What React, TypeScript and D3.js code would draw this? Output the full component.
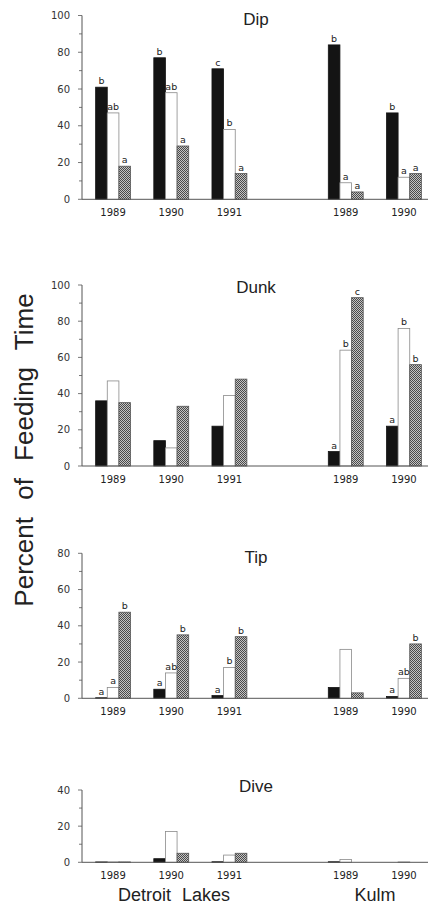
import React from "react";
import * as d3 from "d3";

// ---------- data ----------
const groups = ["DL1989", "DL1990", "DL1991", "gap", "K1989", "K1990"];
const yearLabels = ["1989", "1990", "1991", "", "1989", "1990"];
const seriesKeys = ["black", "white", "grey"];

const panelTitles = ["Dip", "Dunk", "Tip", "Dive"];
const panelMax = [100, 100, 80, 40];

const dipBlack = [61, 77, 71, 0, 84, 47];
const dipWhite = [47, 58, 38, 0, 9, 12];
const dipGrey = [18, 29, 14, 0, 4, 14];
const dipLetBlack = ["b", "b", "c", "", "b", "b"];
const dipLetWhite = ["ab", "ab", "b", "", "a", "a"];
const dipLetGrey = ["a", "a", "a", "", "a", "a"];

const dunkBlack = [36, 14, 22, 0, 8, 22];
const dunkWhite = [47, 10, 39, 0, 64, 76];
const dunkGrey = [35, 33, 48, 0, 93, 56];
const dunkLetBlack = ["", "", "", "", "a", "a"];
const dunkLetWhite = ["", "", "", "", "b", "b"];
const dunkLetGrey = ["", "", "", "", "c", "b"];

const tipBlack = [0.3, 5, 1.5, 0, 6, 1];
const tipWhite = [6, 14, 17, 0, 27, 11];
const tipGrey = [47.5, 35, 34, 0, 3, 30];
const tipLetBlack = ["a", "a", "a", "", "", "a"];
const tipLetWhite = ["a", "ab", "b", "", "", "ab"];
const tipLetGrey = ["b", "b", "b", "", "", "b"];

const diveBlack = [0.2, 2, 0.3, 0, 0.3, 0];
const diveWhite = [0.2, 17, 4, 0, 1.5, 0.2];
const diveGrey = [0.2, 5, 5, 0, 0, 0];

const panelValues = [
  [dipBlack, dipWhite, dipGrey],
  [dunkBlack, dunkWhite, dunkGrey],
  [tipBlack, tipWhite, tipGrey],
  [diveBlack, diveWhite, diveGrey],
];
const panelLetters = [
  [dipLetBlack, dipLetWhite, dipLetGrey],
  [dunkLetBlack, dunkLetWhite, dunkLetGrey],
  [tipLetBlack, tipLetWhite, tipLetGrey],
  null,
];

const yAxisLabel = "Percent of Feeding Time";
const siteLabels = ["Detroit Lakes", "Kulm"];

// ---------- layout ----------
const W = 430;
const H = 907;
const axisX = 82;
const panelTop = [15.5, 285, 553.3, 790];
const panelZero = [199.3, 466, 698.3, 862.3];
const titleBase = [25, 292.7, 563.3, 792.3];

const x = d3.scaleBand<string>().domain(groups).range([84, 433]).paddingInner(0.4).paddingOuter(0.2);
const xs = d3.scaleBand<string>().domain(seriesKeys).range([0, x.bandwidth()]).padding(0);

const numFont = "'DejaVu Sans', sans-serif";
const textFont = "'Liberation Sans', Arial, Helvetica, sans-serif";

function Panel({ idx }: { idx: number }) {
  const y = d3.scaleLinear().domain([0, panelMax[idx]]).range([panelZero[idx], panelTop[idx]]);
  const ticks = d3.range(0, panelMax[idx] + 0.1, 10);
  const vals = panelValues[idx];
  const lets = panelLetters[idx];
  const y0 = y(0);
  return (
    <g>
      <text x={256} y={titleBase[idx]} textAnchor="middle" fontFamily={textFont} fontSize={17} fill="#222">
        {panelTitles[idx]}
      </text>
      {/* bars */}
      {groups.map((g, gi) =>
        seriesKeys.map((s, si) => {
          const v = vals[si][gi];
          if (v <= 0) return null;
          const bx = (x(g) as number) + (xs(s) as number);
          const by = y(v);
          const h = y0 - by;
          const fill = s === "black" ? "#141414" : s === "white" ? "#ffffff" : "url(#hatch)";
          const stroke = s === "black" ? "#141414" : s === "white" ? "#8a8a8a" : "#555";
          return (
            <rect key={g + s} x={bx} y={by} width={xs.bandwidth()} height={h} fill={fill} stroke={stroke} strokeWidth={0.8} />
          );
        })
      )}
      {/* significance letters */}
      {lets &&
        groups.map((g, gi) =>
          seriesKeys.map((s, si) => {
            const l = lets[si][gi];
            if (!l) return null;
            const cx = (x(g) as number) + (xs(s) as number) + xs.bandwidth() / 2;
            return (
              <text key={"l" + g + s} x={cx} y={y(vals[si][gi]) - 3} textAnchor="middle" fontFamily={numFont} fontSize={9.5} fill="#222">
                {l}
              </text>
            );
          })
        )}
      {/* y axis */}
      <line x1={axisX} x2={axisX} y1={y(panelMax[idx])} y2={y0} stroke="#555" strokeWidth={1} />
      {ticks.map((t) => {
        const major = t % 20 === 0;
        return (
          <g key={t}>
            <line x1={axisX - (major ? 4 : 3)} x2={axisX} y1={y(t)} y2={y(t)} stroke="#555" strokeWidth={0.8} />
            {major && (
              <text x={70} y={y(t)} dy="0.36em" textAnchor="end" fontFamily={numFont} fontSize={10} fill="#333">
                {t}
              </text>
            )}
          </g>
        );
      })}
      {/* baseline */}
      <line x1={axisX} x2={428} y1={y0} y2={y0} stroke="#555" strokeWidth={1} />
      {/* year labels */}
      {groups.map((g, gi) =>
        yearLabels[gi] ? (
          <text key={"y" + g} x={(x(g) as number) + x.bandwidth() / 2} y={y0 + 17} textAnchor="middle" fontFamily={numFont} fontSize={10} fill="#222">
            {yearLabels[gi]}
          </text>
        ) : null
      )}
    </g>
  );
}

export default function App() {
  return (
    <svg width={W} height={H} style={{ position: "absolute", left: 0, top: 0, background: "#fff" }}>
      <defs>
        <pattern id="hatch" width={2} height={2} patternUnits="userSpaceOnUse">
          <rect width={2} height={2} fill="#c4c4c4" />
          <rect width={1} height={1} fill="#4a4a4a" />
          <rect x={1} y={1} width={1} height={1} fill="#4a4a4a" />
        </pattern>
      </defs>
      <rect width={W} height={H} fill="#fff" />
      {panelTitles.map((_, i) => (
        <Panel key={i} idx={i} />
      ))}
      <text
        transform="translate(33,450) rotate(-90)"
        textAnchor="middle"
        fontFamily={textFont}
        fontSize={26}
        fill="#222"
        style={{ wordSpacing: "10px" }}
      >
        {yAxisLabel}
      </text>
      <text x={174} y={901} textAnchor="middle" fontFamily={textFont} fontSize={18} fill="#222" style={{ wordSpacing: "6px" }}>
        {siteLabels[0]}
      </text>
      <text x={375} y={901} textAnchor="middle" fontFamily={textFont} fontSize={18} fill="#222">
        {siteLabels[1]}
      </text>
    </svg>
  );
}
